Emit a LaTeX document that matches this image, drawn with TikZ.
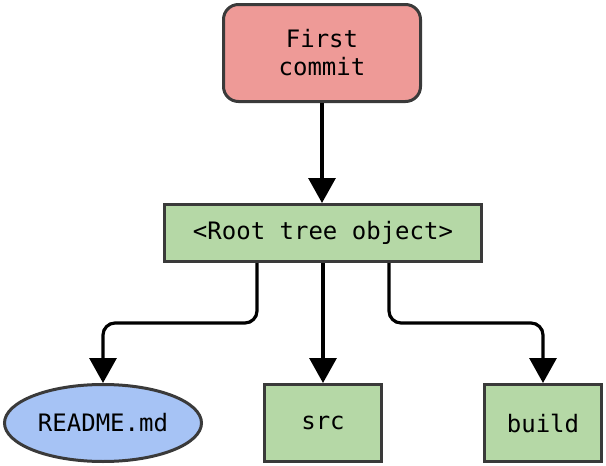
\documentclass[tikz,border=0pt]{standalone}
\usepackage{fontspec}
\setmonofont{DejaVu Sans Mono}
\usetikzlibrary{arrows.meta,shapes.geometric}
\definecolor{commitred}{HTML}{EE9A97}
\definecolor{treegreen}{HTML}{B5D8A6}
\definecolor{blobblue}{HTML}{A6C3F5}
\definecolor{edgegray}{HTML}{3A3A3A}
\begin{document}
\begin{tikzpicture}[x=1pt,y=-1pt,
  box/.style={draw=edgegray, line width=3pt, inner sep=0pt,
    font=\ttfamily\fontsize{24}{28}\selectfont, align=center},
  treebox/.style={box, fill=treegreen},
  conn/.style={line width=3.2pt, -{Triangle[width=27pt,length=25pt]}, rounded corners=12pt}]
\useasboundingbox (0,0) rectangle (606,466);
\node[box, fill=commitred, rounded corners=15pt, minimum width=197pt, minimum height=97pt] (commit) at (322,53) {First\\commit};
\node[treebox, minimum width=317pt, minimum height=57pt] (root) at (323,233) {<Root tree object>};
\node[box, ellipse, fill=blobblue, minimum width=197pt, minimum height=77pt] (readme) at (103,423) {README.md};
\node[treebox, minimum width=117pt, minimum height=77pt] (src) at (323,423) {src};
\node[treebox, minimum width=117pt, minimum height=77pt] (build) at (543,423) {build};
\draw[conn] (commit.south) -- (commit.south |- root.north);
\draw[conn] ([xshift=-66pt]root.south) -- ++(0,60) -| (readme.north);
\draw[conn] (root.south) -- (src.north);
\draw[conn] ([xshift=66pt]root.south) -- ++(0,60) -| (build.north);
\end{tikzpicture}
\end{document}
